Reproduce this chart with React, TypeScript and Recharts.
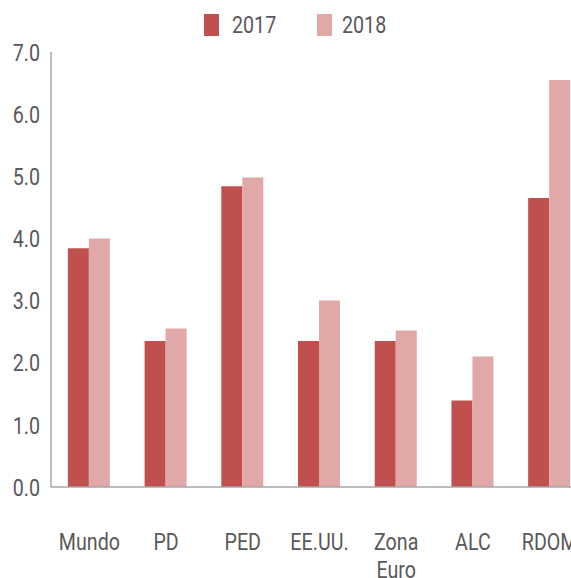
import { BarChart, Bar, XAxis, YAxis, Legend } from 'recharts'

const categories = ['Mundo', 'PD', 'PED', 'EE.UU.', 'Zona Euro', 'ALC', 'RDOM']
const values2017 = [3.84, 2.35, 4.84, 2.35, 2.35, 1.39, 4.65]
const values2018 = [4.0, 2.55, 4.98, 3.0, 2.52, 2.1, 6.55]
const yTicks = [0, 1, 2, 3, 4, 5, 6, 7]

const data = categories.map((name, i) => ({ name, y2017: values2017[i], y2018: values2018[i] }))

// no narrow font installed, so Roboto gets squeezed horizontally
const FONT = 'Roboto, sans-serif'
const SQUEEZE = 0.82
const TEXT = '#595959'
const AXIS = '#A6A6A6'
const C2017 = '#C0504D'
const C2018 = '#E0A8A7'

// category labels, wrapped on spaces ("Zona Euro" goes on two lines)
function CategoryTick(props: any) {
  const { x, y, payload } = props
  const lines = String(payload.value).split(' ')
  return (
    <g transform={`translate(${x},${y + 63}) scale(${SQUEEZE},1)`}>
      <text x={0} y={0} textAnchor="middle" fill={TEXT} fontSize={24} fontFamily={FONT}>
        {lines.map((l, i) => (
          <tspan key={i} x={0} dy={i === 0 ? 0 : 28}>{l}</tspan>
        ))}
      </text>
    </g>
  )
}

function ValueTick(props: any) {
  const { x, y, payload } = props
  return (
    <g transform={`translate(${x},${y}) scale(${SQUEEZE},1)`}>
      <text x={0} y={0} dy="0.36em" textAnchor="end" fill={TEXT} fontSize={24} fontFamily={FONT}>
        {Number(payload.value).toFixed(1)}
      </text>
    </g>
  )
}

function LegendBox() {
  const items = [
    { label: '2017', color: C2017 },
    { label: '2018', color: C2018 },
  ]
  return (
    <div style={{ display: 'flex', paddingLeft: 204, fontFamily: FONT, fontSize: 24, color: TEXT, height: 22 }}>
      {items.map((it, i) => (
        <div key={it.label} style={{ display: 'flex', alignItems: 'center', width: i === 0 ? 113 : 80 }}>
          <div style={{ width: 15, height: 22, background: it.color, marginRight: i === 0 ? 13 : 10 }} />
          <span style={{ lineHeight: '22px', display: 'inline-block', transform: `scaleX(${SQUEEZE})`, transformOrigin: 'left center' }}>
            {it.label}
          </span>
        </div>
      ))}
    </div>
  )
}

export default function App() {
  return (
    <div style={{ position: 'fixed', top: 0, left: 0, width: 571, height: 578, overflow: 'hidden', background: '#fff' }}>
      <BarChart
        width={588}
        height={578}
        data={data}
        margin={{ top: 30, right: 0, bottom: 0, left: 0 }}
        barCategoryGap="22%"
        barGap={0}
      >
        <XAxis
          dataKey="name"
          tick={<CategoryTick />}
          tickLine={false}
          tickSize={0}
          tickMargin={0}
          height={91}
          interval={0}
          axisLine={{ stroke: AXIS, strokeWidth: 1.5 }}
        />
        <YAxis
          width={51}
          domain={[0, 7]}
          ticks={yTicks}
          tickLine={false}
          tickSize={0}
          tickMargin={11}
          axisLine={{ stroke: AXIS, strokeWidth: 1.5 }}
          tick={<ValueTick />}
        />
        <Legend
          verticalAlign="top"
          content={<LegendBox />}
          wrapperStyle={{ top: 14, left: 0, width: 571 }}
        />
        <Bar dataKey="y2017" name="2017" fill={C2017} isAnimationActive={false} />
        <Bar dataKey="y2018" name="2018" fill={C2018} isAnimationActive={false} />
      </BarChart>
    </div>
  )
}
